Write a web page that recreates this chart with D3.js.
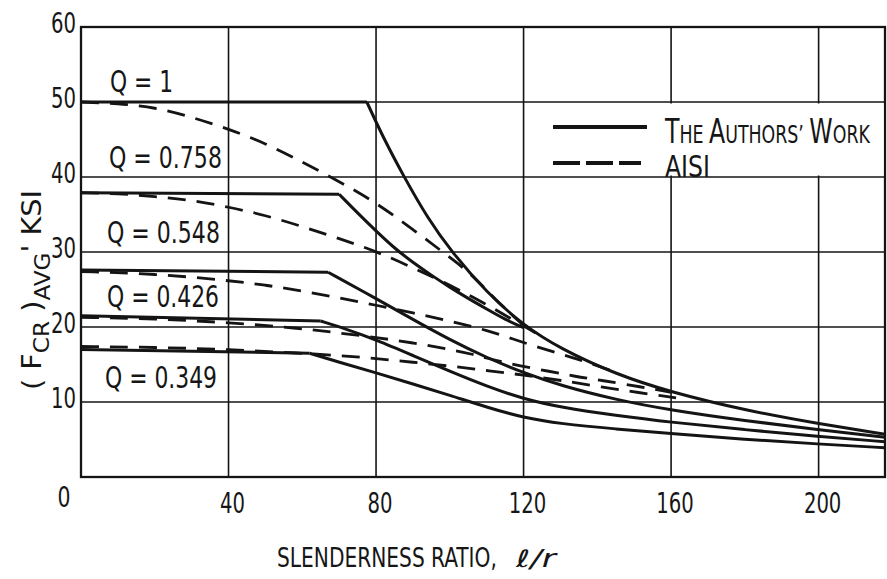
<!DOCTYPE html>
<html>
<head>
<meta charset="utf-8">
<script src="https://cdn.jsdelivr.net/npm/d3@7"></script>
<style>
html, body { margin: 0; padding: 0; background: #fff; }
svg { display: block; }
text { font-family: 'DejaVu Sans Condensed', 'Liberation Sans Narrow', 'DejaVu Sans', sans-serif; fill: #161616; }
</style>
</head>
<body>
<div id="chart"></div>
<script>
// tick values
const xTicks = [0, 40, 80, 120, 160, 200];
const yTicks = [10, 20, 30, 40, 50, 60];
const qLabels = ["Q = 1", "Q = 0.758", "Q = 0.548", "Q = 0.426", "Q = 0.349"];

// the authors' work, [l/r, ksi] (plateau end is the 2nd point)
const authorsQ1    = [[0, 50], [77.5, 50], [82, 45.2], [87.6, 40], [94, 34.5], [100.5, 30], [110, 24.6], [120, 20.2], [130, 17.1], [145, 13.7], [160, 11.3], [180, 8.9], [200, 7.1], [218, 5.7]];
const authorsQ0758 = [[0, 37.9], [70, 37.7], [75, 35.2], [80, 32.8], [85, 30.5], [90, 28.6], [95, 26.9], [100, 25.3], [105, 23.8], [110, 22.4], [115, 21.0], [120, 19.9]];
const authorsQ0548 = [[0, 27.6], [67, 27.3], [80, 23.8], [90, 21.0], [100, 18.3], [110, 15.9], [120, 13.9], [130, 12.2], [145, 10.3], [160, 8.9], [180, 7.5], [200, 6.3], [218, 5.3]];
const authorsQ0426 = [[0, 21.5], [65, 20.8], [72, 19.7], [80, 18.3], [90, 16.2], [100, 14.1], [110, 12.1], [120, 10.4], [130, 9.3], [145, 8.2], [160, 7.3], [180, 6.3], [200, 5.4], [218, 4.7]];
const authorsQ0349 = [[0, 17.0], [62, 16.5], [70, 15.3], [80, 13.9], [90, 12.4], [100, 10.9], [110, 9.3], [120, 7.9], [130, 7.1], [145, 6.4], [160, 5.8], [180, 5.0], [200, 4.4], [218, 3.9]];

// AISI curves
const aisiQ1    = [[0, 50], [10, 49.8], [20, 49.3], [30, 48.0], [40, 46.4], [50, 44.5], [60, 42.0], [70, 39.4], [80, 36.6], [90, 33.0], [100, 29.3], [106, 27.0], [112, 23.8], [120, 20.2]];
const aisiQ0758 = [[0, 37.9], [10, 37.8], [20, 37.4], [30, 36.9], [40, 36.0], [50, 34.9], [60, 33.4], [70, 31.8], [80, 30.1], [90, 27.9], [100, 25.6], [110, 23.0], [117, 21.0], [124, 19.0]];
const aisiQ0548 = [[0, 27.4], [20, 27.1], [40, 26.2], [50, 25.6], [60, 24.8], [70, 23.9], [80, 22.9], [90, 21.9], [100, 20.8], [110, 19.6], [120, 17.9], [130, 16.4], [138, 15.2], [146, 13.8]];
const aisiQ0426 = [[0, 21.3], [20, 21.1], [40, 20.6], [60, 19.8], [70, 19.2], [80, 18.6], [90, 17.9], [100, 17.0], [106, 16.4], [112, 15.6], [119, 14.8], [127, 14.1], [134, 13.4], [141, 12.9], [152, 12.0], [160, 11.3]];
const aisiQ0349 = [[0, 17.4], [20, 17.3], [40, 17.0], [60, 16.5], [70, 16.2], [80, 15.8], [90, 15.3], [100, 14.8], [110, 14.2], [120, 13.6], [130, 12.9], [141, 12.0], [152, 11.2], [158, 10.8], [162, 10.5]];

const authors = [authorsQ1, authorsQ0758, authorsQ0548, authorsQ0426, authorsQ0349];
const aisi = [aisiQ1, aisiQ0758, aisiQ0548, aisiQ0426, aisiQ0349];

const width = 887, height = 579;
const ink = "#141414";

const x = d3.scaleLinear().domain([0, 218]).range([81, 885]);
const y = d3.scaleLinear().domain([0, 60]).range([477, 27]);

const svg = d3.select("#chart").append("svg")
    .attr("width", width)
    .attr("height", height);

svg.append("rect").attr("width", width).attr("height", height).attr("fill", "#fff");

// squeeze a text horizontally so it is w pixels wide (the lettering is very narrow)
function place(parent, str, px, py, size, w, anchor) {
  const g = parent.append("g").attr("transform", "translate(" + px + "," + py + ")");
  const t = g.append("text").attr("font-size", size).attr("text-anchor", anchor || "start").text(str);
  const n = t.node().getComputedTextLength();
  t.attr("transform", "scale(" + (w / n) + ",1)");
  return t;
}

// grid
svg.append("g").selectAll("line")
    .data(xTicks.filter(d => d > 0))
  .enter().append("line")
    .attr("x1", d => x(d)).attr("x2", d => x(d))
    .attr("y1", y(0)).attr("y2", y(60))
    .attr("stroke", ink).attr("stroke-width", 1.6);

svg.append("g").selectAll("line")
    .data(yTicks.filter(d => d < 60))
  .enter().append("line")
    .attr("x1", x(0)).attr("x2", x(218))
    .attr("y1", d => y(d)).attr("y2", d => y(d))
    .attr("stroke", ink).attr("stroke-width", 1.6);

// frame
svg.append("rect")
    .attr("x", x(0)).attr("y", y(60))
    .attr("width", x(218) - x(0)).attr("height", y(0) - y(60))
    .attr("fill", "none").attr("stroke", ink).attr("stroke-width", 2.3);

// legend box clears the grid between 50 and 40
svg.append("rect")
    .attr("x", x(123)).attr("y", y(50) + 1.5)
    .attr("width", x(218) - x(123) - 1.5).attr("height", y(40) - y(50) - 3)
    .attr("fill", "#fff");

const smooth = d3.line().x(d => x(d[0])).y(d => y(d[1])).curve(d3.curveBasis);
const straight = d3.line().x(d => x(d[0])).y(d => y(d[1]));

// the authors' work: flat plateau then curved drop
authors.forEach(pts => {
  svg.append("path").attr("d", straight(pts.slice(0, 2)))
    .attr("fill", "none").attr("stroke", ink).attr("stroke-width", 3);
  svg.append("path").attr("d", smooth(pts.slice(1)))
    .attr("fill", "none").attr("stroke", ink).attr("stroke-width", 3)
    .attr("stroke-linejoin", "round");
});

// AISI dashed
aisi.forEach(pts => {
  svg.append("path").attr("d", smooth(pts))
    .attr("fill", "none").attr("stroke", ink).attr("stroke-width", 2.8)
    .attr("stroke-dasharray", "18,11");
});

// y tick labels
const yl = svg.append("g");
yTicks.forEach(d => place(yl, String(d), 76, y(d) + 6, 28, 25, "end"));

// x tick labels
const xl = svg.append("g");
xTicks.forEach(d => {
  const s = String(d);
  if (d === 0) place(xl, s, 64, 507, 29, 13, "middle");
  else place(xl, s, x(d) + 4, 513, 29, s.length * 12.5, "middle");
});

// x title
place(svg, "SLENDERNESS RATIO,", 277, 567, 27, 220);
place(svg, "\u2113/r", 516, 567, 24, 40).attr("font-style", "italic");

// y title
const ytg = svg.append("g").attr("transform", "translate(41,390) rotate(-90)");
const yt = ytg.append("text").attr("font-size", 26);
yt.append("tspan").text("( F");
yt.append("tspan").attr("font-size", 21).attr("dy", 8).text("CR");
yt.append("tspan").attr("dy", -8).text(" )");
yt.append("tspan").attr("font-size", 21).attr("dy", 9).text("AVG");
yt.append("tspan").attr("dy", -9).text("'  KSI");
yt.attr("transform", "scale(" + (200 / yt.node().getComputedTextLength()) + ",1)");

// Q labels
const qPos = [[110, 92, 63], [109, 168, 113], [107, 243, 113], [107, 307, 112], [105, 388, 112]];
const ql = svg.append("g");
qLabels.forEach((s, i) => place(ql, s, qPos[i][0], qPos[i][1], 30, qPos[i][2]));

// legend
const lg = svg.append("g");
lg.append("line").attr("x1", 553).attr("x2", 647).attr("y1", 127).attr("y2", 127)
    .attr("stroke", ink).attr("stroke-width", 4);
lg.append("line").attr("x1", 553).attr("x2", 641).attr("y1", 163).attr("y2", 163)
    .attr("stroke", ink).attr("stroke-width", 4).attr("stroke-dasharray", "27,6");
const ltg = lg.append("g").attr("transform", "translate(665,143)");
const lt = ltg.append("text").attr("font-size", 34);
lt.append("tspan").text("T");
lt.append("tspan").attr("font-size", 25).text("HE ");
lt.append("tspan").text("A");
lt.append("tspan").attr("font-size", 25).text("UTHORS\u2019 ");
lt.append("tspan").text("W");
lt.append("tspan").attr("font-size", 25).text("ORK");
lt.attr("transform", "scale(" + (205 / lt.node().getComputedTextLength()) + ",1)");
place(lg, "AISI", 665, 177, 30, 45);
</script>
</body>
</html>
